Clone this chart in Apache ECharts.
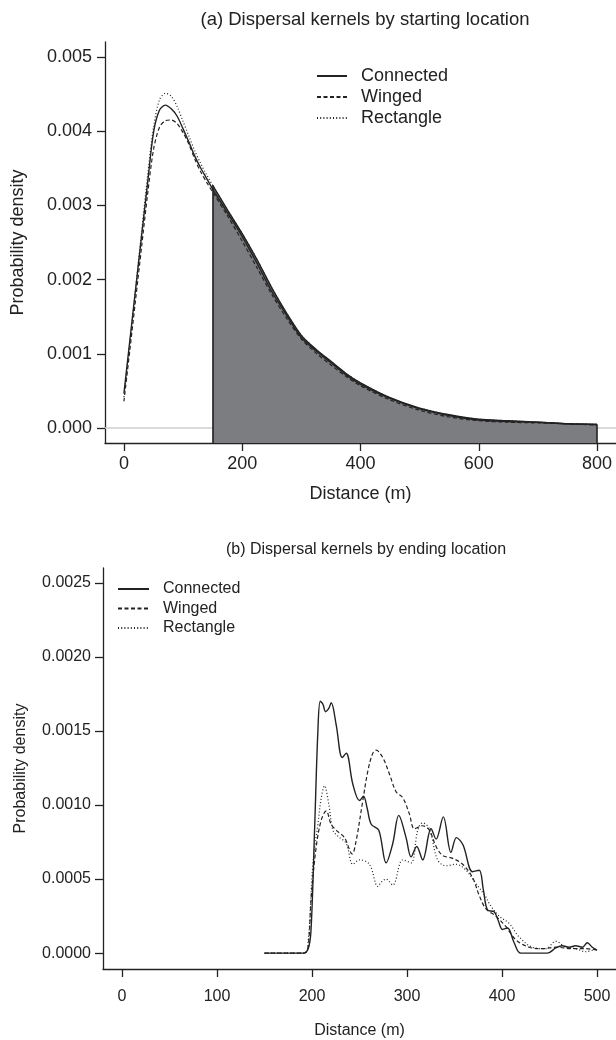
<!DOCTYPE html>
<html><head><meta charset="utf-8">
<script src="https://cdn.jsdelivr.net/npm/echarts@6/dist/echarts.min.js"></script>
<style>html,body{margin:0;padding:0;background:#fff}#c{width:616px;height:1040px}</style>
</head><body><div id="c"></div>
<script>
// ---------- labels ----------
const seriesNames = ['Connected', 'Winged', 'Rectangle'];
const titleA = '(a) Dispersal kernels by starting location';
const titleB = '(b) Dispersal kernels by ending location';
const xName = 'Distance (m)';
const yName = 'Probability density';

// ---------- panel (a) ----------
const aXTicks = [0, 200, 400, 600, 800];
const aYTicks = [0, 0.001, 0.002, 0.003, 0.004, 0.005];
const aShadeFrom = 150, aShadeTo = 800;
const aX = [0,10,20,30,40,50,60,70,80,90,100,110,120,130,140,150,175,200,225,250,275,300,325,350,375,400,450,500,550,600,650,700,750,800];
const aConnected = [0.00047,0.00118,0.00189,0.00260,0.00330,0.00398,0.00428,0.00435,0.00430,0.00420,0.00403,0.00385,0.00366,0.00350,0.00336,0.00322,0.00290,0.00258,0.00222,0.00184,0.00152,0.00122,0.00104,0.00088,0.00072,0.00059,0.00040,0.00026,0.00017,0.00011,0.00009,0.00008,0.00006,0.00005];
const aWinged    = [0.00036,0.00105,0.00175,0.00245,0.00315,0.00375,0.00405,0.00414,0.00415,0.00410,0.00398,0.00382,0.00362,0.00345,0.00331,0.00318,0.00286,0.00252,0.00216,0.00180,0.00148,0.00120,0.00101,0.00085,0.00070,0.00057,0.00038,0.00024,0.00015,0.00010,0.00008,0.00007,0.00006,0.00004];
const aRectangle = [0.00042,0.00115,0.00190,0.00265,0.00340,0.00405,0.00442,0.00451,0.00447,0.00433,0.00413,0.00393,0.00373,0.00356,0.00341,0.00327,0.00294,0.00262,0.00227,0.00189,0.00155,0.00125,0.00106,0.00090,0.00074,0.00061,0.00041,0.00027,0.00018,0.00012,0.00010,0.00008,0.00006,0.00005];

// ---------- panel (b) ----------
const bXTicks = [0, 100, 200, 300, 400, 500];
const bYTicks = [0, 0.0005, 0.0010, 0.0015, 0.0020, 0.0025];
const bConnectedX = [150,190,196,199,202.7,206.2,208.7,211.5,214.3,217.5,220.2,225.5,231.8,236,243,250,254.2,258,262.3,270.3,278,285,291.3,299,304.3,310.2,316.5,325.3,330.6,338.2,346.3,352,359,369,376,380.3,384.9,391.8,396,400.6,405.8,412.8,419.8,447.8,456.6,463.5,470.6,477.6,484.6,489.8,495,500];
const bConnectedY = [0,0,0.00003,0.00016,0.00083,0.00150,0.00170,0.00168,0.00163,0.00165,0.00169,0.00154,0.00132,0.00135,0.00114,0.00103,0.00106,0.00098,0.00087,0.00083,0.00061,0.00074,0.00093,0.00078,0.00065,0.00072,0.00063,0.00084,0.00077,0.00092,0.00068,0.00078,0.00073,0.00055,0.00056,0.00043,0.00029,0.00028,0.00022,0.00016,0.00017,0.00007,0,0,0.000035,0.00005,0.00004,0.00005,0.00004,0.00007,0.00004,0.00002];
const bWingedX = [150,192,196,199.2,204.5,209.8,215,220.2,227.2,234.2,242.3,246.5,253.5,258.8,264,267.5,274.5,281.5,288.5,295.5,302.5,307.8,316.5,323.5,330.6,337.5,348,358.6,369,376,383,393.5,404,414.5,428.6,442.6,456.6,474,488,500];
const bWingedY = [0,0,0.00005,0.00038,0.00072,0.00090,0.00096,0.00087,0.00082,0.00078,0.00067,0.00076,0.00103,0.00123,0.00135,0.00137,0.00132,0.00121,0.00109,0.00105,0.00094,0.00084,0.00086,0.00083,0.00072,0.00066,0.00064,0.00060,0.00051,0.00039,0.00030,0.00025,0.00018,0.00009,0.00004,0.00003,0.00004,0.00003,0.00003,0.00002];
const bRectangleX = [150,192,196,200.9,206.2,209.8,213.2,217.8,222,227.2,236,243,250,260.5,269.3,273,278,285,295.5,304.3,311.3,316.5,323.5,332.2,341,351.6,362,372.5,383,387,397,407.6,418,432,446,456.6,467,477.6,488,500];
const bRectangleY = [0,0,0.00008,0.00060,0.00087,0.00105,0.00113,0.00100,0.00083,0.00079,0.00074,0.00060,0.00063,0.00060,0.00045,0.00048,0.00050,0.00046,0.00063,0.00061,0.00083,0.00088,0.00084,0.00063,0.00059,0.00060,0.00056,0.00047,0.00038,0.00033,0.00025,0.00020,0.00011,0.00004,0.00003,0.00008,0.00004,0.00003,0.00001,0.00003];

// ---------- build ----------
const FONT = '"Liberation Sans", Arial, Helvetica, sans-serif';
const INK = '#222';
const styles = [
  { type: 'solid', width: 1.4 },
  { type: [4, 2.5], width: 1.2 },
  { type: [1, 2.2], width: 1.2 }
];
const zip = (xs, ys) => xs.map((x, i) => [x, ys[i]]);

const aMin = -0.0002, aMax = 0.0052;
const bMin = -0.000107, bMax = 0.0026;

const aCurves = [aConnected, aWinged, aRectangle];
const shadeData = aX.map((x, i) => [x, Math.max(aConnected[i], aWinged[i], aRectangle[i])])
  .filter(p => p[0] >= aShadeFrom && p[0] <= aShadeTo);
const shadeStart = shadeData[0], shadeEnd = shadeData[shadeData.length - 1];

function xAxisCfg(gi, min, max, ticks, fs, labMargin, nameGap) {
  return {
    type: 'value', gridIndex: gi, min, max, position: 'bottom',
    name: xName, nameLocation: 'middle', nameGap,
    nameTextStyle: { fontFamily: FONT, fontSize: fs, color: INK },
    axisLine: { show: true, onZero: false, lineStyle: { color: INK, width: 1.3 } },
    axisTick: { show: true, inside: false, length: 8, customValues: ticks, lineStyle: { color: INK, width: 1.3 } },
    axisLabel: { customValues: ticks, margin: labMargin, fontFamily: FONT, fontSize: fs, color: INK },
    splitLine: { show: false }
  };
}
function yAxisCfg(gi, min, max, ticks, fs, labMargin, nameGap, digits, nfs) {
  return {
    type: 'value', gridIndex: gi, min, max, position: 'left',
    name: yName, nameLocation: 'middle', nameGap, nameRotate: 90,
    nameTextStyle: { fontFamily: FONT, fontSize: nfs, color: INK },
    axisLine: { show: true, onZero: false, lineStyle: { color: INK, width: 1.3 } },
    axisTick: { show: true, inside: false, length: 8, customValues: ticks, lineStyle: { color: INK, width: 1.3 } },
    axisLabel: { customValues: ticks, margin: labMargin, fontFamily: FONT, fontSize: fs, color: INK,
      formatter: v => Number(v).toFixed(digits) },
    splitLine: { show: false }
  };
}

const series = [];
// zero reference line (panel a), drawn beneath the shaded area
series.push({
  type: 'line', xAxisIndex: 0, yAxisIndex: 0, data: [], z: 1, silent: true,
  markLine: { z: 1, silent: true, symbol: 'none', label: { show: false },
    lineStyle: { color: '#cfcfcf', width: 1.6, type: 'solid' }, data: [{ yAxis: 0 }] }
});
// shaded region (panel a)
series.push({
  name: 'shade', type: 'line', xAxisIndex: 0, yAxisIndex: 0, z: 2, silent: true,
  data: shadeData, smooth: 0.3, symbol: 'none',
  lineStyle: { color: INK, width: 1.4 },
  areaStyle: { color: '#7c7d81', opacity: 1, origin: 'start' },
  markLine: { z: 4, silent: true, symbol: 'none', label: { show: false },
    lineStyle: { color: INK, width: 1.6, type: 'solid' },
    data: [
      [{ coord: [shadeStart[0], aMin] }, { coord: shadeStart }],
      [{ coord: [shadeEnd[0], aMin] }, { coord: shadeEnd }]
    ] }
});
seriesNames.forEach((n, k) => {
  series.push({
    name: n, type: 'line', xAxisIndex: 0, yAxisIndex: 0, z: 3, smooth: 0.3, symbol: 'none',
    data: zip(aX, aCurves[k]), lineStyle: Object.assign({ color: INK }, styles[k])
  });
});
const bXs = [bConnectedX, bWingedX, bRectangleX];
const bYs = [bConnectedY, bWingedY, bRectangleY];
seriesNames.forEach((n, k) => {
  series.push({
    name: n, type: 'line', xAxisIndex: 1, yAxisIndex: 1, z: 3 - k * 0.1, smooth: 0.35, symbol: 'none',
    data: zip(bXs[k], bYs[k]), lineStyle: Object.assign({ color: INK }, styles[k])
  });
});

const legendCommon = {
  orient: 'vertical', padding: 0, selectedMode: false,
  itemStyle: { opacity: 0 },
  lineStyle: { opacity: 1, color: INK }
};

const chart = echarts.init(document.getElementById('c'), null, { renderer: 'canvas' });
chart.setOption({
  backgroundColor: '#fff',
  animation: false,
  title: [
    { text: titleA, left: 360, top: 5, textAlign: 'center',
      textStyle: { fontFamily: FONT, fontSize: 18.5, fontWeight: 'normal', color: INK } },
    { text: titleB, left: 361, top: 537, textAlign: 'center',
      textStyle: { fontFamily: FONT, fontSize: 16, fontWeight: 'normal', color: INK } }
  ],
  legend: [
    Object.assign({ data: seriesNames, left: 316, top: 67, itemWidth: 30, itemHeight: 14, itemGap: 3,
      textStyle: { fontFamily: FONT, fontSize: 18, color: INK, padding: [0, 0, 0, 9], lineHeight: 18 } }, legendCommon),
    Object.assign({ data: seriesNames, left: 117, top: 581, itemWidth: 31, itemHeight: 14, itemGap: 3.5,
      textStyle: { fontFamily: FONT, fontSize: 16, color: INK, padding: [0, 0, 0, 9], lineHeight: 16 } }, legendCommon)
  ],
  grid: [
    { left: 105, top: 42, width: 511, height: 401 },
    { left: 103, top: 568, width: 513, height: 405 }
  ],
  xAxis: [
    xAxisCfg(0, -32, 832, aXTicks, 18, 12, 42),
    xAxisCfg(1, -20, 520, bXTicks, 16, 20, 54)
  ],
  yAxis: [
    yAxisCfg(0, aMin, aMax, aYTicks, 18, 13, 78, 3, 18),
    yAxisCfg(1, bMin, bMax, bYTicks, 16, 12, 74, 4, 16)
  ],
  series
});
</script></body></html>
